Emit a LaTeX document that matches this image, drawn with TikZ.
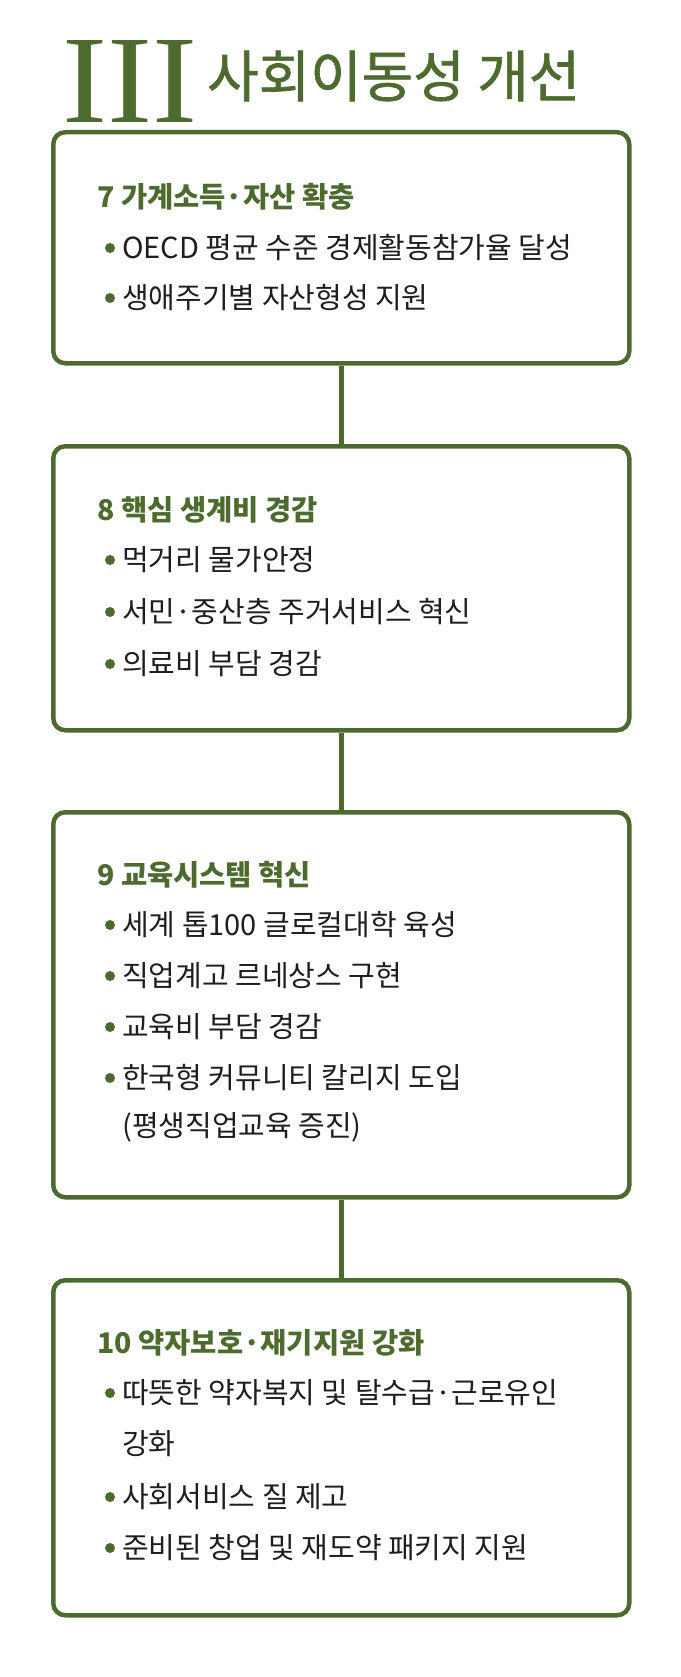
\documentclass[tikz,border=0pt]{standalone}
\usepackage{fontspec}
\setmainfont{Liberation Serif}
\newfontfamily\kr{Noto Sans CJK KR}
\newfontfamily\krt{Noto Sans CJK KR}[FakeBold=1.2]
\definecolor{olive}{HTML}{4E6B2F}
\definecolor{ink}{HTML}{1E1E1E}
\tikzset{
 panel/.style={draw=olive,line width=4.5pt,rounded corners=12pt},
 link/.style={draw=olive,line width=4.5pt},
 head/.style={anchor=west,inner sep=0,text=olive,font=\kr\bfseries\fontsize{28.5}{32}\selectfont},
 item/.style={anchor=west,inner sep=0,text=ink,font=\kr\fontsize{29}{32}\selectfont},
 dot/.style={circle,fill=olive,inner sep=0,minimum size=10pt}
}
\begin{document}
\begin{tikzpicture}[x=1pt,y=-1pt]
\useasboundingbox (0,0) rectangle (680,1677);
\node[inner sep=0,anchor=north west,text=olive] (num) at (62,40) {\resizebox{135pt}{82pt}{III}};
\node[anchor=west,inner sep=0,text=olive,font=\krt\fontsize{56}{60}\selectfont] (title) at (207,76) {사회이동성 개선};
% boxes
\node[panel,minimum width=576pt,minimum height=231pt,anchor=north west] (b1) at (51,130) {};
\node[panel,minimum width=576pt,minimum height=284pt,anchor=north west] (b2) at (51,444) {};
\node[panel,minimum width=576pt,minimum height=385pt,anchor=north west] (b3) at (51,810) {};
\node[panel,minimum width=576pt,minimum height=335pt,anchor=north west] (b4) at (51,1278) {};
\draw[link] (b1.south) -- (b2.north);
\draw[link] (b2.south) -- (b3.north);
\draw[link] (b3.south) -- (b4.north);
% box 1
\node[head] (h7) at (97,197) {7 가계소득·자산 확충};
\node[dot] (d71) at (110,248) {}; \node[item] (t71) at (122,248) {OECD 평균 수준 경제활동참가율 달성};
\node[dot] (d72) at (110,298) {}; \node[item] (t72) at (122,298) {생애주기별 자산형성 지원};
% box 2
\node[head] (h8) at (97,510) {8 핵심 생계비 경감};
\node[dot] (d81) at (110,560) {}; \node[item] (t81) at (122,560) {먹거리 물가안정};
\node[dot] (d82) at (110,612) {}; \node[item] (t82) at (122,612) {서민·중산층 주거서비스 혁신};
\node[dot] (d83) at (110,664) {}; \node[item] (t83) at (122,664) {의료비 부담 경감};
% box 3
\node[head] (h9) at (97,875) {9 교육시스템 혁신};
\node[dot] (d91) at (110,925) {}; \node[item] (t91) at (122,925) {세계 톱100 글로컬대학 육성};
\node[dot] (d92) at (110,976) {}; \node[item] (t92) at (122,976) {직업계고 르네상스 구현};
\node[dot] (d93) at (110,1027) {}; \node[item] (t93) at (122,1027) {교육비 부담 경감};
\node[dot] (d94) at (110,1078) {}; \node[item] (t94) at (122,1078) {한국형 커뮤니티 칼리지 도입};
\node[item] (t95) at (122,1127) {(평생직업교육 증진)};
% box 4
\node[head] (h10) at (97,1343) {10 약자보호·재기지원 강화};
\node[dot] (d101) at (110,1393) {}; \node[item] (t101) at (122,1393) {따뜻한 약자복지 및 탈수급·근로유인};
\node[item] (t102) at (122,1444) {강화};
\node[dot] (d103) at (110,1497) {}; \node[item] (t103) at (122,1497) {사회서비스 질 제고};
\node[dot] (d104) at (110,1548) {}; \node[item] (t104) at (122,1548) {준비된 창업 및 재도약 패키지 지원};
\end{tikzpicture}
\end{document}
